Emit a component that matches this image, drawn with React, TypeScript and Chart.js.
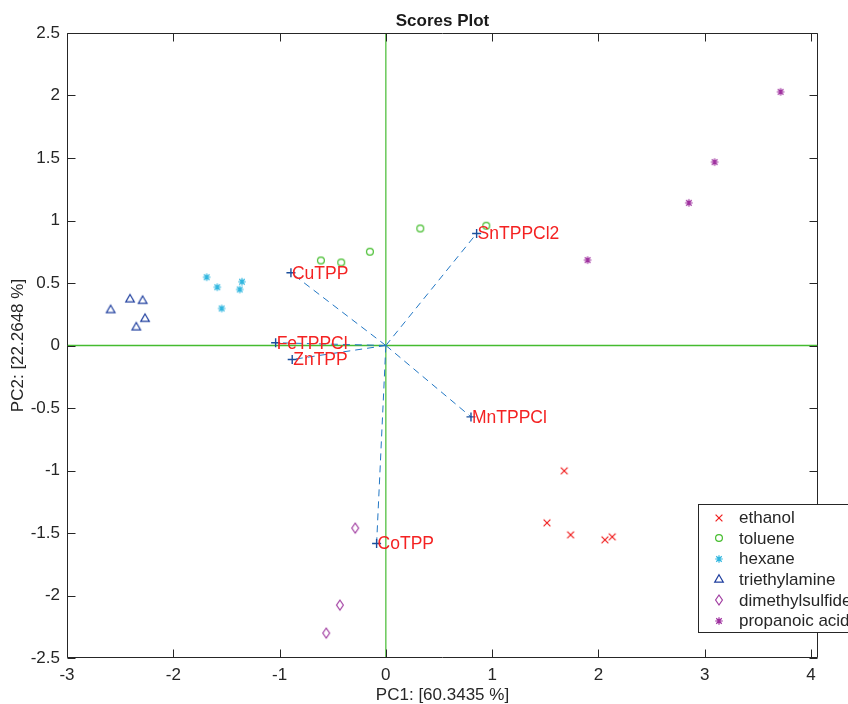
import React, { useEffect, useRef } from 'react';
import { Chart, registerables } from 'chart.js';

Chart.register(...registerables);

// ---------- data ----------
const titleText = 'Scores Plot';
const xLabel = 'PC1: [60.3435 %]';
const yLabel = 'PC2: [22.2648 %]';

const xTicks = [-3, -2, -1, 0, 1, 2, 3, 4];
const yTicks = [-2.5, -2, -1.5, -1, -0.5, 0, 0.5, 1, 1.5, 2, 2.5];
const xRange = [-3, 4.066];
const yRange = [-2.5, 2.5];

const groupNames = ['ethanol', 'toluene', 'hexane', 'triethylamine', 'dimethylsulfide', 'propanoic acid'];

const ethanolX = [1.678, 1.516, 1.738, 2.061, 2.13];
const ethanolY = [-1.003, -1.419, -1.515, -1.555, -1.531];

const tolueneX = [-0.611, -0.42, -0.15, 0.324, 0.945];
const tolueneY = [0.68, 0.664, 0.75, 0.936, 0.958];

const hexaneX = [-1.686, -1.586, -1.354, -1.375, -1.545];
const hexaneY = [0.546, 0.466, 0.51, 0.448, 0.296];

const triethylamineX = [-2.589, -2.407, -2.288, -2.266, -2.348];
const triethylamineY = [0.288, 0.374, 0.362, 0.218, 0.15];

const dimethylsulfideX = [-0.288, -0.432, -0.561];
const dimethylsulfideY = [-1.461, -2.077, -2.301];

const propanoicX = [3.714, 3.093, 2.851, 1.898];
const propanoicY = [2.029, 1.467, 1.141, 0.683];

const loadingNames = ['CuTPP', 'SnTPPCl2', 'FeTPPCl', 'ZnTPP', 'MnTPPCl', 'CoTPP'];
const loadingX = [-0.893, 0.854, -1.037, -0.881, 0.801, -0.087];
const loadingY = [0.582, 0.896, 0.022, -0.112, -0.571, -1.584];

// ---------- styles ----------
const groupXs = [ethanolX, tolueneX, hexaneX, triethylamineX, dimethylsulfideX, propanoicX];
const groupYs = [ethanolY, tolueneY, hexaneY, triethylamineY, dimethylsulfideY, propanoicY];
const groupMarkers = ['x', 'o', '*', '^', 'd', '*'];
const groupColors = ['#f01e1e', '#45bd2e', '#2fb6df', '#1f3f9f', '#a23fa2', '#9e2f9e'];

const FONT = '"Liberation Sans", Arial, Helvetica, sans-serif';
const axisColor = '#262626';
const zeroLineColor = '#44bb30';
const loadingLineColor = '#2277c4';
const loadingMarkColor = '#1a4f9c';
const labelColor = '#f42222';

function makeMarker(kind: string, color: string): HTMLCanvasElement {
  const c = document.createElement('canvas');
  c.width = 16;
  c.height = 16;
  const g = c.getContext('2d') as CanvasRenderingContext2D;
  g.strokeStyle = color;
  g.lineWidth = 1.2;
  const cx = 8;
  const cy = 8;
  g.beginPath();
  if (kind === 'x') {
    g.moveTo(cx - 3.4, cy - 3.4); g.lineTo(cx + 3.4, cy + 3.4);
    g.moveTo(cx + 3.4, cy - 3.4); g.lineTo(cx - 3.4, cy + 3.4);
  } else if (kind === 'o') {
    g.arc(cx, cy, 3.4, 0, Math.PI * 2);
  } else if (kind === '*') {
    const r = 3.8;
    const d = r * 0.72;
    g.moveTo(cx - r, cy); g.lineTo(cx + r, cy);
    g.moveTo(cx, cy - r); g.lineTo(cx, cy + r);
    g.moveTo(cx - d, cy - d); g.lineTo(cx + d, cy + d);
    g.moveTo(cx + d, cy - d); g.lineTo(cx - d, cy + d);
  } else if (kind === '^') {
    g.moveTo(cx, cy - 4.2); g.lineTo(cx + 4.3, cy + 3.2); g.lineTo(cx - 4.3, cy + 3.2); g.closePath();
  } else if (kind === 'd') {
    g.moveTo(cx, cy - 5); g.lineTo(cx + 3.4, cy); g.lineTo(cx, cy + 5); g.lineTo(cx - 3.4, cy); g.closePath();
  }
  g.stroke();
  return c;
}

export default function App() {
  const ref = useRef<HTMLCanvasElement | null>(null);

  useEffect(() => {
    if (!ref.current) return;
    const markers = groupMarkers.map((m, i) => makeMarker(m, groupColors[i]));

    const datasets: any[] = [];
    datasets.push({
      label: 'y0',
      data: [{ x: xRange[0], y: 0 }, { x: xRange[1], y: 0 }],
      showLine: true,
      borderColor: zeroLineColor,
      borderWidth: 1.4,
      pointRadius: 0,
      order: 10,
    });
    datasets.push({
      label: 'x0',
      data: [{ x: 0, y: yRange[0] }, { x: 0, y: yRange[1] }],
      showLine: true,
      borderColor: zeroLineColor,
      borderWidth: 1.2,
      pointRadius: 0,
      order: 10,
    });
    loadingNames.forEach((name, i) => {
      datasets.push({
        label: name,
        data: [{ x: 0, y: 0 }, { x: loadingX[i], y: loadingY[i] }],
        showLine: true,
        borderColor: loadingLineColor,
        borderWidth: 1,
        borderDash: [7, 5],
        pointStyle: 'cross',
        pointRadius: [0, 4.5],
        pointBorderColor: loadingMarkColor,
        pointBorderWidth: 1.4,
        order: 5,
      });
    });
    groupNames.forEach((name, i) => {
      datasets.push({
        label: name,
        data: groupXs[i].map((v, j) => ({ x: v, y: groupYs[i][j] })),
        showLine: false,
        pointStyle: markers[i],
        pointRadius: 5,
        order: 0,
      });
    });

    const overlay = {
      id: 'overlay',
      afterDraw(chart: any) {
        const { ctx, chartArea, scales } = chart;
        const xs = scales.x;
        const ys = scales.y;
        const L = Math.round(chartArea.left) + 0.5;
        const R = Math.round(chartArea.right) - 0.5;
        const T = Math.round(chartArea.top) + 0.5;
        const B = Math.round(chartArea.bottom) - 0.5;
        ctx.save();
        // loading labels
        ctx.fillStyle = labelColor;
        ctx.font = `17.5px ${FONT}`;
        ctx.textAlign = 'left';
        ctx.textBaseline = 'middle';
        loadingNames.forEach((n, i) => {
          ctx.fillText(n, xs.getPixelForValue(loadingX[i]) + 1, ys.getPixelForValue(loadingY[i]) + 1);
        });
        // axes box + inward ticks
        ctx.strokeStyle = axisColor;
        ctx.lineWidth = 1;
        ctx.beginPath();
        ctx.rect(L, T, R - L, B - T);
        xTicks.forEach((v) => {
          const p = Math.round(xs.getPixelForValue(v)) + 0.5;
          ctx.moveTo(p, B); ctx.lineTo(p, B - 8);
          ctx.moveTo(p, T); ctx.lineTo(p, T + 8);
        });
        yTicks.forEach((v) => {
          const p = Math.round(ys.getPixelForValue(v)) + 0.5;
          ctx.moveTo(L, p); ctx.lineTo(L + 8, p);
          ctx.moveTo(R, p); ctx.lineTo(R - 8, p);
        });
        ctx.stroke();
        // title
        ctx.fillStyle = '#1a1a1a';
        ctx.font = `bold 17px ${FONT}`;
        ctx.textAlign = 'center';
        ctx.textBaseline = 'middle';
        ctx.fillText(titleText, (chartArea.left + chartArea.right) / 2, 21);
        // legend
        const lx = 698.5;
        const ly = 504.5;
        ctx.fillStyle = '#ffffff';
        ctx.fillRect(lx, ly, 200, 128);
        ctx.strokeStyle = axisColor;
        ctx.strokeRect(lx, ly, 200, 128);
        ctx.font = `17px ${FONT}`;
        ctx.textAlign = 'left';
        ctx.fillStyle = axisColor;
        groupNames.forEach((n, i) => {
          const yy = 517.5 + i * 20.65;
          ctx.drawImage(markers[i], 719 - 8, Math.round(yy) - 8);
          ctx.fillText(n, 739, yy + 1);
        });
        ctx.restore();
      },
    };

    const tickFont = { family: FONT, size: 17 };
    const chart = new Chart(ref.current, {
      type: 'scatter',
      data: { datasets },
      options: {
        animation: false,
        responsive: false,
        maintainAspectRatio: false,
        layout: { padding: { top: 33, right: 30, left: 0, bottom: 0 } },
        plugins: {
          legend: { display: false },
          title: { display: false },
          tooltip: { enabled: false },
        },
        scales: {
          x: {
            type: 'linear',
            min: xRange[0],
            max: xRange[1],
            afterBuildTicks: (s: any) => { s.ticks = xTicks.map((v) => ({ value: v })); },
            afterFit: (s: any) => { s.height = 46; },
            grid: { display: false, drawTicks: false },
            border: { display: false },
            ticks: { font: tickFont, color: axisColor, padding: 7, maxRotation: 0, autoSkip: false, callback: (v: any) => String(v) },
            title: { display: true, text: xLabel, font: tickFont, color: axisColor, padding: { top: 0, bottom: -2 } },
          },
          y: {
            type: 'linear',
            min: yRange[0],
            max: yRange[1],
            afterBuildTicks: (s: any) => { s.ticks = yTicks.map((v) => ({ value: v })); },
            afterFit: (s: any) => { s.width = 67; },
            grid: { display: false, drawTicks: false },
            border: { display: false },
            ticks: { font: tickFont, color: axisColor, padding: 7, autoSkip: false, callback: (v: any) => String(v) },
            title: { display: true, text: yLabel, font: tickFont, color: axisColor, padding: { top: 8, bottom: 0 } },
          },
        },
      },
      plugins: [overlay],
    } as any);
    return () => chart.destroy();
  }, []);

  return (
    <div style={{ position: 'fixed', left: 0, top: 0, width: 848, height: 704, background: '#fff' }}>
      <canvas ref={ref} width={848} height={704} style={{ width: 848, height: 704, display: 'block' }} />
    </div>
  );
}
